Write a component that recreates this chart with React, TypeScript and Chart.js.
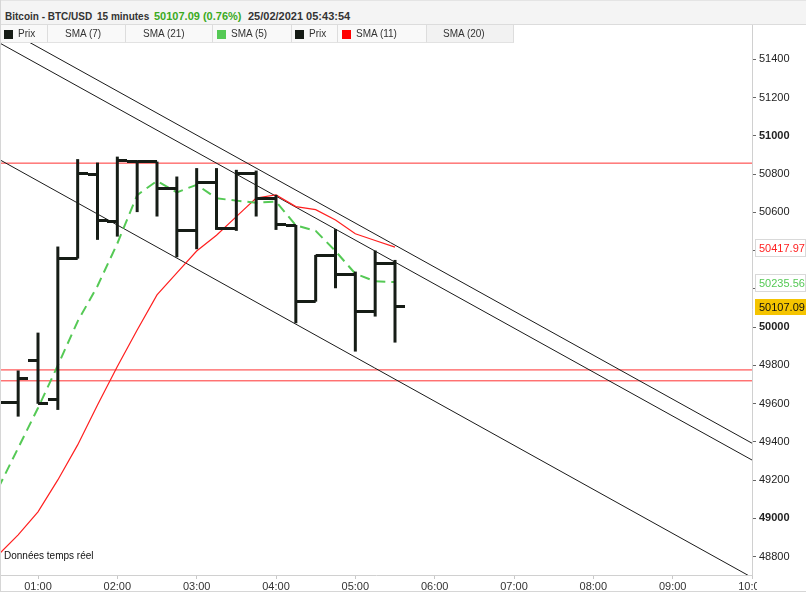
import React, { useEffect, useRef } from 'react';
import { Chart, registerables } from 'chart.js';

Chart.register(...registerables);

const FONT = '"Liberation Sans", Arial, Helvetica, sans-serif';

// 15-minute bars, time in minutes after midnight (25/02/2021)
const barTimes = [30, 45, 60, 75, 90, 105, 120, 135, 150, 165, 180, 195, 210, 225, 240, 255, 270, 285, 300, 315, 330];
const opens = [49650, 49607, 49823, 49623, 50358, 50796, 50551, 50865, 50865, 50726, 50504, 50755, 50517, 50801, 50674, 50529, 50133, 50372, 50274, 50081, 50334];
const highs = [49700, 49773, 49971, 50421, 50878, 50860, 50891, 50870, 50865, 50787, 50831, 50831, 50822, 50818, 50691, 50534, 50377, 50512, 50290, 50400, 50351];
const lows = [49560, 49532, 49599, 49567, 50358, 50456, 50473, 50601, 50578, 50365, 50407, 50508, 50503, 50578, 50508, 50020, 50133, 50203, 49872, 50055, 49919];
const closes = [49607, 49731, 49599, 50358, 50801, 50557, 50870, 50865, 50726, 50504, 50755, 50517, 50801, 50674, 50534, 50133, 50372, 50274, 50081, 50334, 50107.09];

// moving averages
const sma5 = [49159, 49368, 49577, 49800, 50030, 50215, 50437, 50690, 50764, 50704, 50744, 50673, 50661, 50650, 50656, 50532, 50503, 50397, 50279, 50239, 50235.56];
const sma11 = [48810, 48914, 49034, 49201, 49384, 49593, 49794, 49985, 50168, 50283, 50397.5, 50480, 50577.5, 50675, 50691, 50630, 50614, 50559.5, 50488, 50452.6, 50417.97];

// drawn horizontal levels and trend lines
const hLevels = [50857, 49776, 49719];
const X_MIN = 31.26;
const X_MAX = 600;
const trendTimes = [X_MIN, X_MAX];
const trendA = [51574, 49393];
const trendB = [51484, 49305];
const trendC = [50874, 48691];

const Y_MIN = 48704;
const Y_MAX = 51485;
const priceTicks = [48800, 49000, 49200, 49400, 49600, 49800, 50000, 50200, 50400, 50600, 50800, 51000, 51200, 51400];
const hourTicks = [60, 120, 180, 240, 300, 360, 420, 480, 540, 600];

const BAR_COLOR = '#161c16';
const GREEN = '#55c955';
const RED = '#ff1f1f';

function makeTick(side: 'open' | 'close') {
  const c = document.createElement('canvas');
  c.width = 20;
  c.height = 3;
  const g = c.getContext('2d')!;
  g.fillStyle = BAR_COLOR;
  if (side === 'open') g.fillRect(0, 0, 10, 3);
  else g.fillRect(10, 0, 10, 3);
  return c;
}

const priceBoxes = {
  id: 'priceBoxes',
  afterDraw(chart: any) {
    const { ctx, chartArea, scales } = chart;
    const y = scales.y;
    ctx.save();
    // cut off the last time label like the reference
    ctx.fillStyle = '#ffffff';
    ctx.fillRect(chartArea.right + 5, chartArea.bottom + 5, chart.width - chartArea.right - 5, chart.height - chartArea.bottom - 5);
    const boxes = [
      { v: sma11[sma11.length - 1], fg: RED, bg: '#ffffff', bd: '#d9d9d9', h: 17 },
      { v: sma5[sma5.length - 1], fg: GREEN, bg: '#ffffff', bd: '#d9d9d9', h: 17 },
      { v: closes[closes.length - 1], fg: '#111111', bg: '#f5c400', bd: '#f5c400', h: 15 },
    ];
    ctx.font = '11px ' + FONT;
    ctx.textBaseline = 'middle';
    ctx.textAlign = 'left';
    for (const b of boxes) {
      const yy = y.getPixelForValue(b.v);
      const x0 = chartArea.right + 3;
      const top = Math.round(yy - b.h / 2) + 0.5;
      ctx.fillStyle = b.bg;
      ctx.fillRect(x0, top, chart.width - x0, b.h);
      ctx.strokeStyle = b.bd;
      ctx.lineWidth = 1;
      ctx.strokeRect(x0 + 0.5, top, chart.width - x0 - 1, b.h);
      ctx.fillStyle = b.fg;
      ctx.fillText(b.v.toFixed(2), chartArea.right + 7, top + b.h / 2 + 0.5);
    }
    ctx.restore();
  },
};

const pad2 = (n: number) => (n < 10 ? '0' + n : '' + n);

export default function App() {
  const ref = useRef<HTMLCanvasElement | null>(null);

  useEffect(() => {
    if (!ref.current) return;
    Chart.defaults.font.family = FONT;
    const openImg = makeTick('open');
    const closeImg = makeTick('close');
    const line = (data: number[], times: number[]) => data.map((v, i) => ({ x: times[i], y: v }));

    const datasets: any[] = [];
    hLevels.forEach((lv) => {
      datasets.push({
        type: 'line',
        data: [{ x: X_MIN, y: lv }, { x: X_MAX, y: lv }],
        borderColor: '#ff3030',
        borderWidth: 1,
        pointRadius: 0,
        clip: 0,
        order: 6,
      });
    });
    [trendA, trendB, trendC].forEach((t) => {
      datasets.push({
        type: 'line',
        data: line(t, trendTimes),
        borderColor: '#1a1a1a',
        borderWidth: 1,
        pointRadius: 0,
        clip: 0,
        order: 5,
      });
    });
    datasets.push({
      type: 'line',
      data: line(sma11, barTimes),
      borderColor: RED,
      borderWidth: 1.2,
      pointRadius: 0,
      tension: 0,
      clip: 0,
      order: 4,
    });
    datasets.push({
      type: 'line',
      data: line(sma5, barTimes),
      borderColor: GREEN,
      borderWidth: 2,
      borderDash: [10, 6],
      pointRadius: 0,
      tension: 0,
      clip: 0,
      order: 3,
    });
    datasets.push({
      type: 'bar',
      data: barTimes.map((t, i) => ({ x: t, y: [lows[i], highs[i]] })),
      backgroundColor: BAR_COLOR,
      borderWidth: 0,
      barThickness: 3,
      inflateAmount: 0,
      clip: 0,
      order: 2,
    });
    datasets.push({
      type: 'line',
      data: line(opens, barTimes),
      showLine: false,
      pointStyle: openImg,
      pointRadius: 10,
      pointBorderWidth: 0,
      clip: 0,
      order: 1,
    });
    datasets.push({
      type: 'line',
      data: line(closes, barTimes),
      showLine: false,
      pointStyle: closeImg,
      pointRadius: 10,
      pointBorderWidth: 0,
      clip: 0,
      order: 0,
    });

    const chart = new Chart(ref.current, {
      type: 'line',
      data: { datasets },
      options: {
        responsive: false,
        animation: false,
        events: [],
        layout: { autoPadding: false, padding: { top: 43, left: 0, right: 0, bottom: 0 } },
        plugins: {
          legend: { display: false },
          tooltip: { enabled: false },
        },
        scales: {
          x: {
            type: 'linear',
            min: X_MIN,
            max: X_MAX,
            offset: false,
            grid: { offset: false, drawOnChartArea: false, drawTicks: true, tickLength: 4, color: '#c8c8c8' },
            border: { color: '#d0d0d0' },
            ticks: {
              font: { size: 11, family: FONT },
              color: '#333333',
              padding: 1,
              maxRotation: 0,
              autoSkip: false,
              callback: (v: any) => pad2(Math.round(Number(v) / 60)) + ':00',
            },
            afterBuildTicks: (s: any) => {
              s.ticks = hourTicks.map((v) => ({ value: v }));
            },
            afterFit: (s: any) => {
              s.height = 17;
              s.paddingLeft = 0;
              s.paddingRight = 0;
            },
          },
          y: {
            type: 'linear',
            position: 'right',
            min: Y_MIN,
            max: Y_MAX,
            grid: { drawOnChartArea: false, drawTicks: true, tickLength: 4, color: '#666666' },
            border: { color: '#d0d0d0' },
            ticks: {
              font: (c: any) => ({
                size: 11,
                family: FONT,
                weight: c.tick && c.tick.value % 1000 === 0 ? 'bold' : 'normal',
              }),
              color: '#222222',
              padding: 3,
              autoSkip: false,
              callback: (v: any) => String(v),
            },
            afterBuildTicks: (s: any) => {
              s.ticks = priceTicks.map((v) => ({ value: v }));
            },
            afterFit: (s: any) => {
              s.width = 54;
              s.paddingTop = 0;
              s.paddingBottom = 0;
            },
          },
        },
      } as any,
      plugins: [priceBoxes],
    });
    return () => chart.destroy();
  }, []);

  const cell = (left: number, width: number, bg: string): React.CSSProperties => ({
    position: 'absolute',
    left,
    top: 0,
    width: width - 1,
    height: 17,
    background: bg,
    borderRight: '1px solid #dddddd',
    borderBottom: '1px solid #e2e2e2',
  });
  const sq = (left: number, color: string): React.CSSProperties => ({
    position: 'absolute',
    left,
    top: 5,
    width: 9,
    height: 9,
    background: color,
  });
  const lt = (left: number): React.CSSProperties => ({
    position: 'absolute',
    left,
    top: 3,
    fontSize: 10,
    lineHeight: '12px',
    color: '#333',
    whiteSpace: 'nowrap',
  });
  const ht = (left: number, size: number, color = '#333'): React.CSSProperties => ({
    position: 'absolute',
    left,
    top: 8,
    fontSize: size,
    lineHeight: '15px',
    fontWeight: 'bold',
    color,
    whiteSpace: 'nowrap',
  });

  return (
    <div style={{ position: 'absolute', left: 0, top: 0, width: 806, height: 592, background: '#fff', fontFamily: FONT, overflow: 'hidden' }}>
      <canvas ref={ref} width={806} height={592} style={{ position: 'absolute', left: 0, top: 0, width: 806, height: 592 }} />
      <div style={{ position: 'absolute', left: 0, top: 0, width: 806, height: 25, background: '#f4f4f4', borderTop: '1px solid #e4e4e4', borderBottom: '1px solid #dcdcdc', boxSizing: 'border-box' }}>
        <span style={ht(5, 10)}>Bitcoin - BTC/USD</span>
        <span style={ht(97, 10)}>15 minutes</span>
        <span style={ht(154, 11, '#3aaa1e')}>50107.09 (0.76%)</span>
        <span style={ht(248, 11)}>25/02/2021 05:43:54</span>
      </div>
      <div style={{ position: 'absolute', left: 0, top: 25, width: 806, height: 18 }}>
        <div style={cell(0, 48, '#f9f9f9')}>
          <div style={sq(4, BAR_COLOR)} />
          <span style={lt(18)}>Prix</span>
        </div>
        <div style={cell(48, 78, '#f9f9f9')}>
          <span style={lt(17)}>SMA (7)</span>
        </div>
        <div style={cell(126, 87, '#f9f9f9')}>
          <span style={lt(17)}>SMA (21)</span>
        </div>
        <div style={cell(213, 79, '#f9f9f9')}>
          <div style={sq(4, GREEN)} />
          <span style={lt(18)}>SMA (5)</span>
        </div>
        <div style={cell(292, 46, '#f9f9f9')}>
          <div style={sq(3, BAR_COLOR)} />
          <span style={lt(17)}>Prix</span>
        </div>
        <div style={cell(338, 89, '#f9f9f9')}>
          <div style={sq(4, '#ff0000')} />
          <span style={lt(18)}>SMA (11)</span>
        </div>
        <div style={cell(427, 87, '#f2f2f2')}>
          <span style={lt(16)}>SMA (20)</span>
        </div>
        <div style={{ position: 'absolute', left: 752, top: 0, width: 1, height: 18, background: '#d0d0d0' }} />
      </div>
      <div style={{ position: 'absolute', left: 4, top: 550, fontSize: 10, lineHeight: '12px', color: '#111', whiteSpace: 'nowrap' }}>Données temps réel</div>
      <div style={{ position: 'absolute', left: 0, top: 0, width: 1, height: 592, background: '#d6d6d6' }} />
      <div style={{ position: 'absolute', left: 0, top: 591, width: 806, height: 1, background: '#d6d6d6' }} />
    </div>
  );
}
